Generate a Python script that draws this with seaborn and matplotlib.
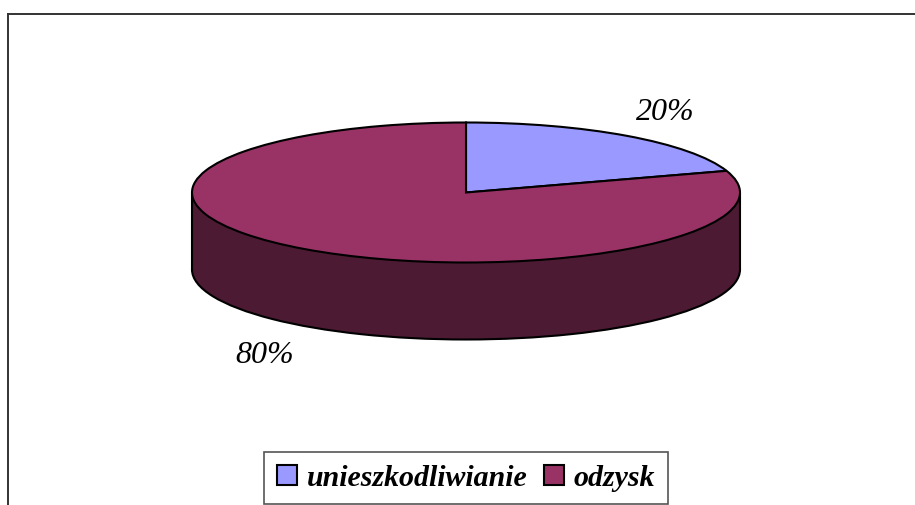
import matplotlib
matplotlib.use('Agg')
import numpy as np
import matplotlib.pyplot as plt
import seaborn as sns

categories = ['unieszkodliwianie', 'odzysk']
shares = [20, 80]
colors = sns.color_palette(['#9999FF', '#993366'])
side_color = '#4C1A33'

W, H = 915, 505
DEPTH = 1.1  # pie thickness, in units of the ellipse's vertical radius

sns.set_theme(style='white')
plt.rcParams['font.family'] = ['Liberation Serif', 'DejaVu Serif']

fig = plt.figure(figsize=(W / 100, H / 100), dpi=100, facecolor='white')

# outer frame, runs off the right and bottom of the picture
frame = fig.add_axes([7.5 / W, 0, 1 - 7.5 / W, 1 - 14 / H])
frame.set_xticks([])
frame.set_yticks([])
sns.despine(ax=frame, top=False, left=False, right=True, bottom=True)
for side in ['top', 'left']:
    frame.spines[side].set_linewidth(1.4)
    frame.spines[side].set_color('#333333')

# pie axes: top face ellipse spans x 192-740, y 122.5-262.5
ax = fig.add_axes([192 / W, 1 - 340.5 / H, 548 / W, 218 / H])
edge = {'edgecolor': 'black', 'linewidth': 1.5, 'clip_on': False}

ax.pie([sum(shares)], colors=[side_color], startangle=90, center=(0, -DEPTH),
       counterclock=False, wedgeprops=edge)
xs = np.linspace(-1, 1, 200)
ax.fill_between(xs, -DEPTH, 0, color=side_color, linewidth=0)
ax.plot([-1, -1], [0, -DEPTH], color='black', lw=1.5, clip_on=False)
ax.plot([1, 1], [0, -DEPTH], color='black', lw=1.5, clip_on=False)
wedges, _ = ax.pie(shares, colors=colors, startangle=90, counterclock=False,
                   wedgeprops=edge)
for w in wedges:
    w.set_zorder(3)
ax.set_aspect('auto')
ax.set_xlim(-1, 1)
ax.set_ylim(1 - 218 / 70, 1)

fig.text(665.5 / W, 1 - 112.5 / H, f'{shares[0]}%', fontsize=23, fontstyle='italic',
         ha='center', va='center', color='black')
fig.text(265 / W, 1 - 355.5 / H, f'{shares[1]}%', fontsize=23, fontstyle='italic',
         ha='center', va='center', color='black')

leg = fig.legend(wedges, categories, loc='center', ncol=2,
                 bbox_to_anchor=(466 / W, 1 - 478 / H), fancybox=False,
                 edgecolor='#555555', framealpha=1, handlelength=0.68,
                 handleheight=0.68, handletextpad=0.32, columnspacing=0.55,
                 borderpad=0.42, borderaxespad=0, labelcolor='black',
                 prop={'size': 21.5, 'style': 'italic', 'weight': 'bold'})
leg.get_frame().set_linewidth(1.2)

fig.savefig('out.png', dpi=100)
plt.close(fig)
